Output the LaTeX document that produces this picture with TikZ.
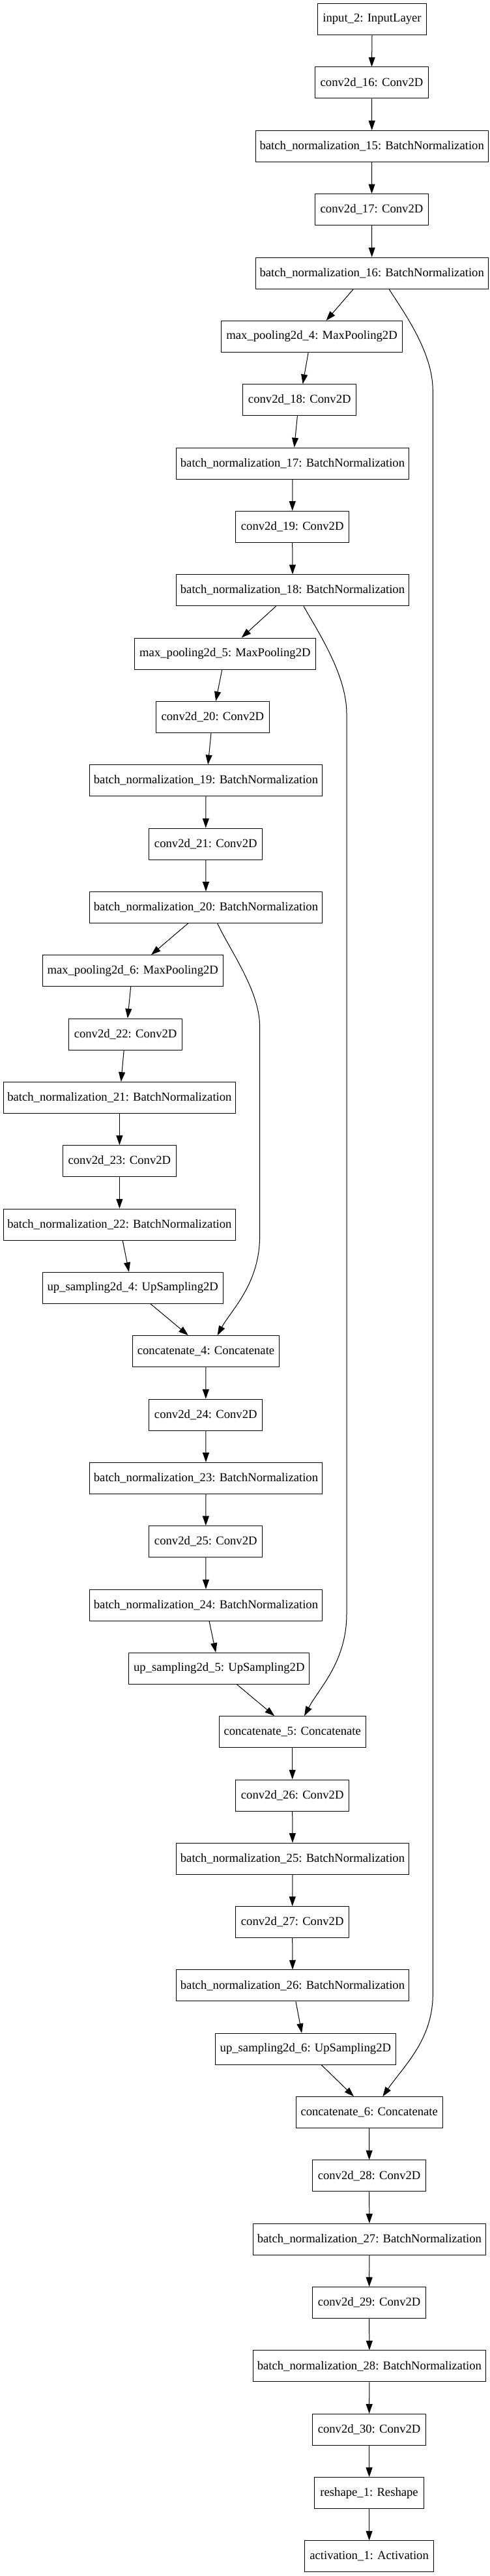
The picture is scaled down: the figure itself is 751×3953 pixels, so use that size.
\documentclass[tikz,border=0pt]{standalone}
\usepackage{fontspec}
\setmainfont{Liberation Serif}
\usepackage{tikz}
\usetikzlibrary{arrows.meta, calc}

\begin{document}
\begin{tikzpicture}[
        x=0.75pt, y=-0.75pt,
        layer/.style={draw, line width=0.75pt, minimum width=#1, minimum height=36pt, inner sep=0pt, font=\fontsize{14}{16}\selectfont},
        layer/.default=130.7pt,
        edge/.style={-{Triangle[length=11pt, width=7.5pt]}, line width=0.75pt}
    ]
    \useasboundingbox (0,0) rectangle (751,3953);

    % encoder
    \node[layer=125.6pt] (input) at (571,29.7) {input\_2: InputLayer};
    \node[layer] (conv16) at (570.5,127.0) {conv2d\_16: Conv2D};
    \node[layer=267.5pt] (bn15) at (570.7,224.4) {batch\_normalization\_15: BatchNormalization};
    \node[layer] (conv17) at (570.5,321.7) {conv2d\_17: Conv2D};
    \node[layer=267.5pt] (bn16) at (570.7,419.0) {batch\_normalization\_16: BatchNormalization};
    \node[layer=208pt] (pool4) at (478.6,516.4) {max\_pooling2d\_4: MaxPooling2D};
    \node[layer] (conv18) at (459.8,613.7) {conv2d\_18: Conv2D};
    \node[layer=267.5pt] (bn17) at (449,711.0) {batch\_normalization\_17: BatchNormalization};
    \node[layer] (conv19) at (448.7,808.3) {conv2d\_19: Conv2D};
    \node[layer=267.5pt] (bn18) at (449,905.7) {batch\_normalization\_18: BatchNormalization};
    \node[layer=208pt] (pool5) at (345.4,1003.0) {max\_pooling2d\_5: MaxPooling2D};
    \node[layer] (conv20) at (326.4,1100.3) {conv2d\_20: Conv2D};
    \node[layer=267.5pt] (bn19) at (316,1197.7) {batch\_normalization\_19: BatchNormalization};
    \node[layer] (conv21) at (315.8,1295.0) {conv2d\_21: Conv2D};
    \node[layer=267.5pt] (bn20) at (316,1392.3) {batch\_normalization\_20: BatchNormalization};
    \node[layer=208pt] (pool6) at (203.7,1489.7) {max\_pooling2d\_6: MaxPooling2D};
    \node[layer] (conv22) at (192.6,1587.0) {conv2d\_22: Conv2D};
    \node[layer=267.5pt] (bn21) at (183.4,1684.3) {batch\_normalization\_21: BatchNormalization};
    \node[layer] (conv23) at (183.4,1781.6) {conv2d\_23: Conv2D};
    \node[layer=267.5pt] (bn22) at (183.4,1879.0) {batch\_normalization\_22: BatchNormalization};

    % decoder
    \node[layer=208pt] (up4) at (203.7,1976.3) {up\_sampling2d\_4: UpSampling2D};
    \node[layer=168.6pt] (concat4) at (316,2073.6) {concatenate\_4: Concatenate};
    \node[layer] (conv24) at (315.8,2171.0) {conv2d\_24: Conv2D};
    \node[layer=267.5pt] (bn23) at (316,2268.3) {batch\_normalization\_23: BatchNormalization};
    \node[layer] (conv25) at (315.8,2365.6) {conv2d\_25: Conv2D};
    \node[layer=267.5pt] (bn24) at (316,2463.0) {batch\_normalization\_24: BatchNormalization};
    \node[layer=208pt] (up5) at (336.3,2560.3) {up\_sampling2d\_5: UpSampling2D};
    \node[layer=168.6pt] (concat5) at (448.7,2657.6) {concatenate\_5: Concatenate};
    \node[layer] (conv26) at (448.7,2755.0) {conv2d\_26: Conv2D};
    \node[layer=267.5pt] (bn25) at (449,2852.3) {batch\_normalization\_25: BatchNormalization};
    \node[layer] (conv27) at (448.7,2949.6) {conv2d\_27: Conv2D};
    \node[layer=267.5pt] (bn26) at (449,3046.9) {batch\_normalization\_26: BatchNormalization};
    \node[layer=208pt] (up6) at (468.9,3144.3) {up\_sampling2d\_6: UpSampling2D};
    \node[layer=168.6pt] (concat6) at (566.7,3241.6) {concatenate\_6: Concatenate};
    \node[layer] (conv28) at (566.6,3338.9) {conv2d\_28: Conv2D};
    \node[layer=267.5pt] (bn27) at (566.9,3436.3) {batch\_normalization\_27: BatchNormalization};
    \node[layer] (conv29) at (566.6,3533.6) {conv2d\_29: Conv2D};
    \node[layer=267.5pt] (bn28) at (566.9,3630.9) {batch\_normalization\_28: BatchNormalization};
    \node[layer] (conv30) at (566.6,3728.3) {conv2d\_30: Conv2D};
    \node[layer=125.7pt] (reshape) at (566.6,3825.6) {reshape\_1: Reshape};
    \node[layer=148.8pt] (activation) at (566.6,3922.9) {activation\_1: Activation};

    % straight chain
    \draw[edge] (input.south) -- (conv16.north);
    \draw[edge] (conv16.south) -- (bn15.north);
    \draw[edge] (bn15.south) -- (conv17.north);
    \draw[edge] (conv17.south) -- (bn16.north);
    \draw[edge] ($(bn16.south)+(-28.2,0)$) -- ($(pool4.north)+(22,0)$);
    \draw[edge] ($(pool4.south)+(-5.4,0)$) -- ($(conv18.north)+(4.8,0)$);
    \draw[edge] ($(conv18.south)+(-3.4,0)$) -- ($(bn17.north)+(2.6,0)$);
    \draw[edge] (bn17.south) -- (conv19.north);
    \draw[edge] (conv19.south) -- (bn18.north);
    \draw[edge] ($(bn18.south)+(-25.4,0)$) -- ($(pool5.north)+(25.3,0)$);
    \draw[edge] ($(pool5.south)+(-4.6,0)$) -- ($(conv20.north)+(4.8,0)$);
    \draw[edge] ($(conv20.south)+(-2.4,0)$) -- ($(bn19.north)+(3.2,0)$);
    \draw[edge] (bn19.south) -- (conv21.north);
    \draw[edge] (conv21.south) -- (bn20.north);
    \draw[edge] ($(bn20.south)+(-27.2,0)$) -- ($(pool6.north)+(28.3,0)$);
    \draw[edge] ($(pool6.south)+(-3,0)$) -- ($(conv22.north)+(3.3,0)$);
    \draw[edge] ($(conv22.south)+(-2.4,0)$) -- ($(bn21.north)+(2.4,0)$);
    \draw[edge] (bn21.south) -- (conv23.north);
    \draw[edge] (conv23.south) -- (bn22.north);
    \draw[edge] ($(bn22.south)+(4.8,0)$) -- ($(up4.north)+(-5.8,0)$);
    \draw[edge] ($(up4.south)+(27.3,0)$) -- ($(concat4.north)+(-27.2,0)$);
    \draw[edge] (concat4.south) -- (conv24.north);
    \draw[edge] (conv24.south) -- (bn23.north);
    \draw[edge] (bn23.south) -- (conv25.north);
    \draw[edge] (conv25.south) -- (bn24.north);
    \draw[edge] ($(bn24.south)+(5,0)$) -- ($(up5.north)+(-5.1,0)$);
    \draw[edge] ($(up5.south)+(27.2,0)$) -- ($(concat5.north)+(-27.5,0)$);
    \draw[edge] (concat5.south) -- (conv26.north);
    \draw[edge] (conv26.south) -- (bn25.north);
    \draw[edge] (bn25.south) -- (conv27.north);
    \draw[edge] (conv27.south) -- (bn26.north);
    \draw[edge] ($(bn26.south)+(5,0)$) -- ($(up6.north)+(-5.8,0)$);
    \draw[edge] ($(up6.south)+(24.5,0)$) -- ($(concat6.north)+(-23.7,0)$);
    \draw[edge] (concat6.south) -- (conv28.north);
    \draw[edge] (conv28.south) -- (bn27.north);
    \draw[edge] (bn27.south) -- (conv29.north);
    \draw[edge] (conv29.south) -- (bn28.north);
    \draw[edge] (bn28.south) -- (conv30.north);
    \draw[edge] (conv30.south) -- (reshape.north);
    \draw[edge] (reshape.south) -- (activation.north);

    % skip connections
    \draw[edge] ($(bn20.south)+(17.6,0)$) .. controls (352,1457) and (398.6,1520) .. (398.6,1575)
        -- (398.6,1896.7) .. controls (398.6,1970) and (355,2010) .. ($(concat4.north)+(17.6,0)$);
    \draw[edge] ($(bn18.south)+(17,0)$) .. controls (487,968) and (532,1035) .. (532,1095)
        -- (532,2476.7) .. controls (532,2550) and (490,2590) .. ($(concat5.north)+(18.3,0)$);
    \draw[edge] ($(bn16.south)+(26.3,0)$) .. controls (620,480) and (664.3,540) .. (664.3,600)
        -- (664.3,3060) .. controls (664.3,3130) and (620,3170) .. ($(concat6.north)+(20.6,0)$);
\end{tikzpicture}
\end{document}
